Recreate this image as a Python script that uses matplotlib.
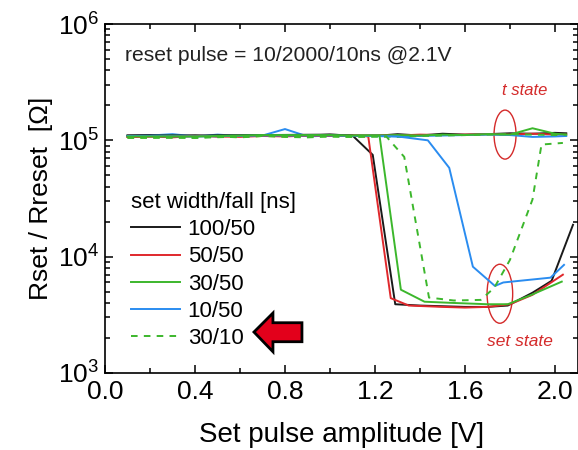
import matplotlib
matplotlib.use("Agg")
import matplotlib.pyplot as plt
from matplotlib.patches import Ellipse, Polygon
from matplotlib.transforms import ScaledTranslation
from matplotlib.ticker import LogLocator, MultipleLocator, NullFormatter

plt.rcParams["font.family"] = ["Liberation Sans", "DejaVu Sans"]
plt.rcParams["mathtext.fontset"] = "custom"
plt.rcParams["mathtext.rm"] = "Liberation Sans"

# --- data ---
x_reset = [0.10, 0.20, 0.30, 0.40, 0.50, 0.60, 0.70, 0.80, 0.90, 1.00, 1.10,
           1.20, 1.30, 1.40, 1.50, 1.60, 1.70, 1.80, 1.90, 2.00, 2.05]
reset_100_50 = [1.10e5, 1.11e5, 1.09e5, 1.10e5, 1.08e5, 1.10e5, 1.11e5, 1.09e5, 1.10e5, 1.12e5, 1.10e5,
                1.09e5, 1.13e5, 1.10e5, 1.14e5, 1.12e5, 1.13e5, 1.15e5, 1.14e5, 1.16e5, 1.15e5]
reset_50_50 = [1.07e5, 1.08e5, 1.06e5, 1.09e5, 1.08e5, 1.07e5, 1.09e5, 1.08e5, 1.10e5, 1.09e5, 1.10e5,
               1.11e5, 1.10e5, 1.12e5, 1.11e5, 1.12e5, 1.13e5, 1.12e5, 1.14e5, 1.12e5, 1.12e5]
reset_30_50 = [1.08e5, 1.09e5, 1.10e5, 1.08e5, 1.10e5, 1.09e5, 1.11e5, 1.10e5, 1.09e5, 1.11e5, 1.10e5,
               1.10e5, 1.11e5, 1.10e5, 1.12e5, 1.11e5, 1.13e5, 1.12e5, 1.27e5, 1.14e5, 1.12e5]
reset_10_50 = [1.09e5, 1.10e5, 1.13e5, 1.08e5, 1.12e5, 1.09e5, 1.10e5, 1.25e5, 1.08e5, 1.10e5, 1.09e5,
               1.10e5, 1.08e5, 1.09e5, 1.10e5, 1.11e5, 1.12e5, 1.11e5, 1.07e5, 1.08e5, 1.09e5]
reset_30_10 = [1.05e5, 1.06e5, 1.07e5, 1.05e5, 1.08e5, 1.06e5, 1.09e5, 1.07e5, 1.06e5, 1.08e5, 1.07e5,
               1.08e5, 1.07e5, 1.09e5, 1.10e5, 1.11e5, 1.12e5, 1.13e5, 1.12e5, 1.11e5, 1.12e5]

x_set_100_50 = [0.10, 0.40, 0.70, 1.00, 1.10, 1.19, 1.29, 1.40, 1.50, 1.60, 1.70, 1.79, 1.90, 1.985, 2.08]
set_100_50 = [1.10e5, 1.10e5, 1.11e5, 1.12e5, 1.10e5, 7.5e4, 3.9e3, 3.8e3, 3.75e3, 3.7e3, 3.7e3, 3.8e3, 4.9e3, 6.2e3, 1.88e4]

x_set_50_50 = [0.10, 0.40, 0.70, 1.00, 1.10, 1.17, 1.27, 1.35, 1.50, 1.60, 1.70, 1.80, 1.90, 2.035]
set_50_50 = [1.07e5, 1.09e5, 1.09e5, 1.09e5, 1.10e5, 1.08e5, 4.4e3, 3.8e3, 3.7e3, 3.65e3, 3.7e3, 3.9e3, 4.7e3, 7.0e3]

x_set_30_50 = [0.10, 0.40, 0.70, 1.00, 1.10, 1.22, 1.315, 1.42, 1.55, 1.70, 1.79, 1.89, 2.03]
set_30_50 = [1.08e5, 1.08e5, 1.11e5, 1.11e5, 1.10e5, 1.10e5, 5.2e3, 4.1e3, 4.0e3, 3.9e3, 3.9e3, 4.65e3, 6.1e3]

x_set_10_50 = [0.10, 0.40, 0.70, 1.00, 1.30, 1.435, 1.53, 1.635, 1.733, 1.77, 1.98, 2.04]
set_10_50 = [1.09e5, 1.08e5, 1.10e5, 1.10e5, 1.08e5, 1.0e5, 5.8e4, 8.2e3, 5.6e3, 6.0e3, 6.6e3, 8.5e3]

x_set_30_10 = [0.10, 0.40, 0.70, 1.00, 1.10, 1.25, 1.33, 1.44, 1.55, 1.67, 1.73, 1.80, 1.90, 1.94, 2.035]
set_30_10 = [1.05e5, 1.05e5, 1.09e5, 1.08e5, 1.07e5, 1.08e5, 7.2e4, 4.45e3, 4.2e3, 4.25e3, 5.4e3, 9.4e3, 3.1e4, 9.2e4, 9.5e4]

labels = ["100/50", "50/50", "30/50", "10/50", "30/10"]
colors = ["#1a1a1a", "#e0282c", "#3cb72c", "#2a8cf0", "#3cb72c"]

# --- plot ---
fig = plt.figure(figsize=(5.78, 4.5), dpi=100)
ax = fig.add_axes([105 / 578, 1 - 373 / 450, 472.5 / 578, 349 / 450])

lw = 1.4
dash = (0, (3.4, 3.2))
ax.plot(x_reset, reset_100_50, color=colors[0], lw=lw)
ax.plot(x_reset, reset_50_50, color=colors[1], lw=lw)
ax.plot(x_reset, reset_10_50, color=colors[3], lw=lw)
ax.plot(x_reset, reset_30_10, color=colors[4], lw=lw, ls=dash)
ax.plot(x_reset, reset_30_50, color=colors[2], lw=lw)

l1, = ax.plot(x_set_100_50, set_100_50, color=colors[0], lw=lw, label=labels[0])
l2, = ax.plot(x_set_50_50, set_50_50, color=colors[1], lw=lw, label=labels[1])
l4, = ax.plot(x_set_10_50, set_10_50, color=colors[3], lw=lw, label=labels[3])
l3, = ax.plot(x_set_30_50, set_30_50, color=colors[2], lw=lw, label=labels[2])
l5, = ax.plot(x_set_30_10, set_30_10, color=colors[4], lw=lw, ls=dash, label=labels[4])

ax.set_yscale("log")
ax.set_xlim(0, 2.1)
ax.set_ylim(1e3, 1e6)

ax.xaxis.set_major_locator(MultipleLocator(0.4))
ax.xaxis.set_minor_locator(MultipleLocator(0.2))
ax.xaxis.set_major_formatter(plt.FuncFormatter(lambda v, p: f"{v:.1f}"))
ax.yaxis.set_major_locator(LogLocator(base=10, numticks=10))
ax.yaxis.set_minor_locator(LogLocator(base=10, subs=range(2, 10), numticks=10))
ax.yaxis.set_minor_formatter(NullFormatter())

ax.tick_params(which="both", direction="in", top=True, right=True, labelsize=19, width=1.1)
ax.tick_params(axis="x", which="major", length=5.5, pad=5)
ax.tick_params(axis="y", which="major", length=6, pad=4)
ax.tick_params(which="minor", length=3.5)
for s in ax.spines.values():
    s.set_linewidth(1.2)

ax.set_xlabel("Set pulse amplitude [V]", fontsize=20, labelpad=13)
ax.set_ylabel("Rset / Rreset  [Ω]", fontsize=19, labelpad=4)

ax.text(0.042, 0.911, "reset pulse = 10/2000/10ns @2.1V", transform=ax.transAxes,
        fontsize=15.2, va="center", ha="left", color="#222222")

leg = ax.legend(handles=[l1, l2, l3, l4, l5], loc="upper left", bbox_to_anchor=(0.055, 0.519),
                frameon=False, fontsize=16, title="set width/fall [ns]", title_fontsize=16,
                alignment="left", borderpad=0, borderaxespad=0, handlelength=2.2,
                handletextpad=0.35, labelspacing=0.28)

# ellipses and labels
red = "#d42a2a"
ell_set = Ellipse((0, 0), 0.256, 0.59, fill=False, ec=red, lw=1.0,
                  transform=fig.dpi_scale_trans + ScaledTranslation(1.755, 4.8e3, ax.transData))
ell_reset = Ellipse((0, 0), 0.22, 0.49, fill=False, ec=red, lw=1.0,
                    transform=fig.dpi_scale_trans + ScaledTranslation(1.778, 1.12e5, ax.transData))
ax.add_patch(ell_set)
ax.add_patch(ell_reset)
ax.text(1.844, 1.85e3, "set state", color=red, style="italic", fontsize=12.5, ha="center", va="center")
ax.text(1.864, 2.7e5, "t state", color=red, style="italic", fontsize=12, ha="center", va="center")

# big red arrow pointing at the 30/10 entry
arrow_pts = [(0, 0), (0.19, 0.19), (0.19, 0.093), (0.48, 0.093),
             (0.48, -0.097), (0.19, -0.097), (0.19, -0.197)]
arrow = Polygon(arrow_pts, closed=True, fc="#e3001b", ec="black", lw=2,
                transform=fig.dpi_scale_trans + ScaledTranslation(0.662, 2.25e3, ax.transData))
ax.add_patch(arrow)

fig.savefig("out.png", dpi=100)
